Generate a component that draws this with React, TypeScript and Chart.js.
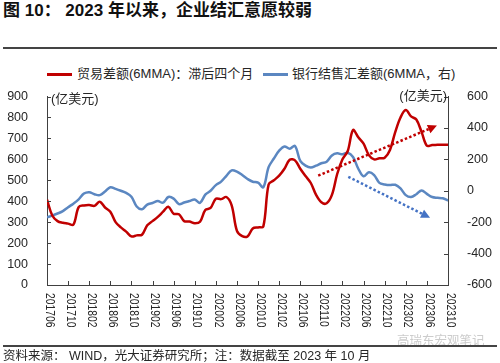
import React, { useEffect, useRef } from 'react';
import { Chart, registerables } from 'chart.js';

Chart.register(...registerables);

// ---------- text ----------
const TITLE = '图 10： 2023 年以来，企业结汇意愿较弱';
const SOURCE = '资料来源： WIND，光大证券研究所；注：数据截至 2023 年 10 月';
const WATERMARK = '高瑞东宏观笔记';
const UNIT = '(亿美元)';
const SERIES_NAMES = ['贸易差额(6MMA)：滞后四个月', '银行结售汇差额(6MMA，右)'];

// ---------- axes ----------
const X_TICK_LABELS = [
  '201706', '201710', '201802', '201806', '201810', '201902', '201906', '201910',
  '202002', '202006', '202010', '202102', '202106', '202110', '202202', '202206',
  '202210', '202302', '202306', '202310',
];
const LEFT_TICKS = [0, 100, 200, 300, 400, 500, 600, 700, 800, 900];
const RIGHT_TICKS = [-600, -400, -200, 0, 200, 400, 600];

// ---------- data (monthly, 2017-06 .. 2023-10) ----------
const TRADE = [
  407, 332, 305, 297, 293, 288, 372, 380, 382, 378,
  398, 370, 350, 300, 275, 255, 232, 237, 240, 285,
  305, 325, 350, 374, 340, 338, 305, 303, 295, 302,
  358, 368, 412, 410, 420, 380, 258, 233, 232, 270,
  275, 280, 480, 500, 522, 555, 598, 595, 555, 520,
  487, 430, 395, 390, 430, 530, 600, 640, 740, 705,
  675, 620, 600, 605, 608, 645, 730, 800, 835, 805,
  790, 730, 665, 668, 670, 670, 670,
];
const FX = [
  -169, -158, -145, -130, -105, -82, -55, -18, -9, -22,
  -28, -5, 22, 12, 0, -14, -38, -100, -118, -88,
  -78, -66, -76, -40, -50, -85, -75, -65, -56, -77,
  -25, 0, 36, 58, 95, 130, 122, 100, 75, 57,
  52, 22, 150, 205, 255, 282, 268, 285, 190, 160,
  148, 160, 175, 185, 225, 238, 232, 242, 215, 140,
  92, 118, 100, 50, 40, 36, 38, 15, -28, -40,
  -22, 2, -20, -40, -45, -48, -62,
];

// trend arrows: [monthIndex, value] start and end
const RED_ARROW = [[51.4, 522], [73.9, 761]];   // left axis
const BLUE_ARROW = [[57.1, 89], [72.6, -172]];  // right axis

const RED = '#C00000';
const BLUE = '#5B87C1';
const BLUE_ARROW_COLOR = '#4472C4';
const AXIS = '#404040';
const TEXT = '#262626';
const FONT = '"Liberation Sans", "Noto Sans CJK SC", sans-serif';

function drawArrow(ctx: CanvasRenderingContext2D, x0: number, y0: number, x1: number, y1: number, color: string) {
  const ang = Math.atan2(y1 - y0, x1 - x0);
  const head = 9;
  const half = 4.5;
  const bx = x1 - head * Math.cos(ang);
  const by = y1 - head * Math.sin(ang);
  ctx.save();
  ctx.strokeStyle = color;
  ctx.lineWidth = 2.5;
  ctx.setLineDash([2.5, 2.2]);
  ctx.beginPath();
  ctx.moveTo(x0, y0);
  ctx.lineTo(bx, by);
  ctx.stroke();
  ctx.setLineDash([]);
  ctx.fillStyle = color;
  ctx.beginPath();
  ctx.moveTo(x1, y1);
  ctx.lineTo(bx + half * Math.sin(ang), by - half * Math.cos(ang));
  ctx.lineTo(bx - half * Math.sin(ang), by + half * Math.cos(ang));
  ctx.closePath();
  ctx.fill();
  ctx.restore();
}

const decorPlugin = {
  id: 'decor',
  afterDatasetsDraw(chart: any) {
    const { ctx, scales } = chart;
    const x = scales.x, yl = scales.y, yr = scales.y1;
    drawArrow(ctx,
      x.getPixelForValue(RED_ARROW[0][0]), yl.getPixelForValue(RED_ARROW[0][1]),
      x.getPixelForValue(RED_ARROW[1][0]), yl.getPixelForValue(RED_ARROW[1][1]), RED);
    drawArrow(ctx,
      x.getPixelForValue(BLUE_ARROW[0][0]), yr.getPixelForValue(BLUE_ARROW[0][1]),
      x.getPixelForValue(BLUE_ARROW[1][0]), yr.getPixelForValue(BLUE_ARROW[1][1]), BLUE_ARROW_COLOR);
  },
  afterDraw(chart: any) {
    const { ctx, chartArea: a, scales } = chart;
    const x = scales.x, yl = scales.y, yr = scales.y1;
    ctx.save();
    ctx.strokeStyle = AXIS;
    ctx.lineWidth = 1;
    ctx.beginPath();
    yl.ticks.forEach((t: any) => {
      const py = Math.round(yl.getPixelForValue(t.value)) + 0.5;
      ctx.moveTo(a.left, py); ctx.lineTo(a.left + 4, py);
    });
    yr.ticks.forEach((t: any) => {
      const py = Math.round(yr.getPixelForValue(t.value)) + 0.5;
      ctx.moveTo(a.right - 4, py); ctx.lineTo(a.right, py);
    });
    x.ticks.forEach((t: any) => {
      const px = Math.round(x.getPixelForValue(t.value)) + 0.5;
      ctx.moveTo(px, a.bottom); ctx.lineTo(px, a.bottom - 4);
    });
    ctx.stroke();

    // rotated x labels (reading top to bottom)
    ctx.fillStyle = TEXT;
    ctx.font = '12px ' + FONT;
    ctx.textAlign = 'left';
    ctx.textBaseline = 'middle';
    x.ticks.forEach((t: any, k: number) => {
      const label = X_TICK_LABELS[k];
      if (!label) return;
      const px = x.getPixelForValue(t.value) + 2;
      ctx.save();
      ctx.translate(px, a.bottom + 8);
      ctx.rotate(Math.PI / 2);
      ctx.scale(0.86, 1);
      ctx.fillText(label, 0, 0);
      ctx.restore();
    });
    ctx.restore();
  },
};

export default function App() {
  const ref = useRef<HTMLCanvasElement>(null);

  useEffect(() => {
    const chart = new Chart(ref.current as HTMLCanvasElement, {
      type: 'line',
      data: {
        datasets: [
          {
            label: SERIES_NAMES[0],
            data: TRADE.map((v, i) => ({ x: i, y: v })),
            yAxisID: 'y',
            borderColor: RED,
            backgroundColor: RED,
            borderWidth: 2.5,
            pointRadius: 0,
            tension: 0.35,
          },
          {
            label: SERIES_NAMES[1],
            data: FX.map((v, i) => ({ x: i, y: v })),
            yAxisID: 'y1',
            borderColor: BLUE,
            backgroundColor: BLUE,
            borderWidth: 2.5,
            pointRadius: 0,
            tension: 0.35,
          },
        ],
      },
      options: {
        animation: false,
        responsive: false,
        devicePixelRatio: 1,
        events: [],
        layout: { padding: { top: 13, left: 0, right: 0, bottom: 0 } },
        plugins: { legend: { display: false }, tooltip: { enabled: false }, title: { display: false } },
        scales: {
          x: {
            type: 'linear',
            min: 0,
            max: TRADE.length - 1,
            grid: { display: false },
            border: { display: true, color: AXIS, width: 1 },
            ticks: { display: false, stepSize: 4 },
            afterFit: (s: any) => { s.height = 55; },
          },
          y: {
            position: 'left',
            min: LEFT_TICKS[0],
            max: LEFT_TICKS[LEFT_TICKS.length - 1],
            grid: { display: false },
            border: { display: true, color: AXIS, width: 1 },
            ticks: { stepSize: LEFT_TICKS[1] - LEFT_TICKS[0], color: TEXT, padding: 11, font: { size: 12.5, family: FONT } },
            afterFit: (s: any) => { s.width = 47; },
          },
          y1: {
            position: 'right',
            min: RIGHT_TICKS[0],
            max: RIGHT_TICKS[RIGHT_TICKS.length - 1],
            grid: { display: false },
            border: { display: true, color: AXIS, width: 1 },
            ticks: { stepSize: RIGHT_TICKS[1] - RIGHT_TICKS[0], color: TEXT, padding: 11, font: { size: 12.5, family: FONT } },
            afterFit: (s: any) => { s.width = 52; },
          },
        },
      } as any,
      plugins: [decorPlugin],
    });
    return () => chart.destroy();
  }, []);

  const abs = (o: any) => ({ position: 'absolute', whiteSpace: 'nowrap', ...o });

  return (
    <div style={{ position: 'fixed', left: 0, top: 0, width: 500, height: 363, background: '#fff', overflow: 'hidden', fontFamily: FONT, color: TEXT }}>
      <div style={abs({ left: 3, top: 0, fontSize: 17, lineHeight: '22px', fontWeight: 'bold', color: '#111' })}>{TITLE}</div>
      <div style={abs({ left: 3, top: 47, width: 494, height: 1.5, background: '#444' })} />

      <div style={abs({ left: 47, top: 73, width: 25, height: 2.5, background: RED })} />
      <div style={abs({ left: 77, top: 66, fontSize: 13, lineHeight: '16px' })}>{SERIES_NAMES[0]}</div>
      <div style={abs({ left: 263, top: 73, width: 25, height: 2.5, background: BLUE })} />
      <div style={abs({ left: 292, top: 66, fontSize: 13, lineHeight: '16px' })}>{SERIES_NAMES[1]}</div>

      <canvas ref={ref} width={500} height={262} style={{ position: 'absolute', left: 0, top: 78, display: 'block' }} />

      <div style={abs({ left: 51, top: 91, fontSize: 13, lineHeight: '16px' })}>{UNIT}</div>
      <div style={abs({ right: 53, top: 88, fontSize: 13, lineHeight: '16px' })}>{UNIT}</div>

      <div style={abs({ left: 397, top: 334, fontSize: 12.5, lineHeight: '14px', color: '#cccccc' })}>{WATERMARK}</div>
      <div style={abs({ left: 3, top: 345, width: 494, height: 1.5, background: '#444' })} />
      <div style={abs({ left: 3, top: 349, fontSize: 12.5, lineHeight: '14px' })}>{SOURCE}</div>
    </div>
  );
}
